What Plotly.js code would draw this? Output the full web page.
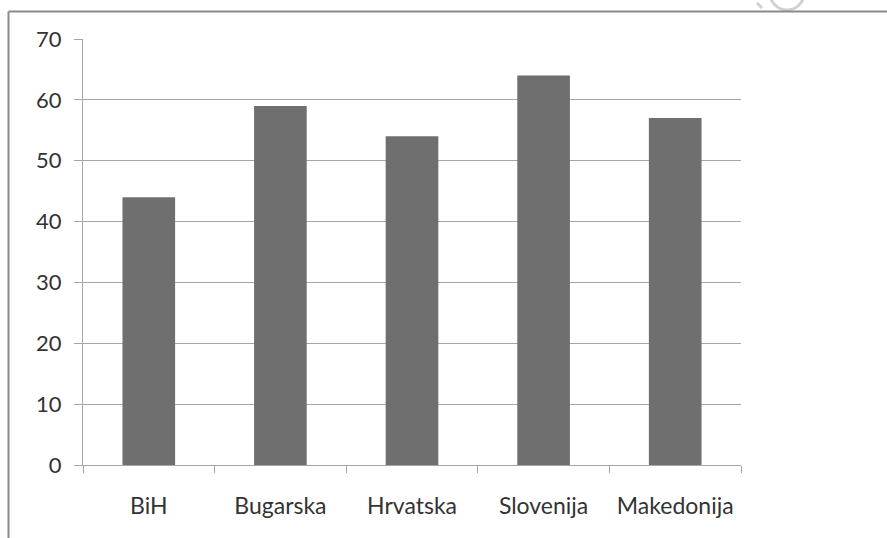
<!DOCTYPE html>
<html>
<head>
<meta charset="utf-8">
<script src="https://cdn.plot.ly/plotly-3.0.1.min.js"></script>
<style>html,body{margin:0;padding:0;background:#fff;}#chart{width:887px;height:538px;}</style>
</head>
<body>
<div id="chart"></div>
<script>
const categories = ["BiH", "Bugarska", "Hrvatska", "Slovenija", "Makedonija"];
const values = [44, 59, 54, 64, 57];
const yTicks = [0, 10, 20, 30, 40, 50, 60, 70];

const L = 83, R = 741, T = 39, B = 465, W = 887, H = 538;
const px = x => (x - L) / (R - L);
const py = y => (B - y) / (B - T);

const data = [{
  type: "bar",
  x: categories,
  y: values,
  marker: {color: "#6f6f6f", line: {width: 0}},
  width: 0.4,
  hoverinfo: "x+y"
}];

const layout = {
  width: W, height: H,
  margin: {l: L, r: W - R, t: T, b: H - B, pad: 0},
  paper_bgcolor: "#ffffff",
  plot_bgcolor: "#ffffff",
  showlegend: false,
  font: {family: "Lato, 'Open Sans', sans-serif", size: 22, color: "#333333"},
  xaxis: {
    type: "category",
    showgrid: false,
    showline: true, linecolor: "#a6a6a6", linewidth: 1,
    ticks: "outside", tickson: "boundaries", ticklen: 7, tickcolor: "#a6a6a6", tickwidth: 1,
    tickfont: {size: 23, color: "#333333"},
    ticklabelstandoff: 20,
    zeroline: false,
    fixedrange: true
  },
  yaxis: {
    range: [0, 70],
    tickvals: yTicks,
    ticktext: yTicks.map(String),
    showgrid: true, gridcolor: "#a6a6a6", gridwidth: 1,
    showline: true, linecolor: "#a6a6a6", linewidth: 1,
    ticks: "outside", ticklen: 8, tickcolor: "#a6a6a6", tickwidth: 1,
    tickfont: {size: 22, color: "#333333"},
    ticklabelstandoff: 8,
    zeroline: false,
    fixedrange: true
  },
  shapes: [
    {type: "line", xref: "paper", yref: "paper", x0: px(8.5), x1: px(887), y0: py(11.5), y1: py(11.5), line: {color: "#8a8a8a", width: 2}},
    {type: "line", xref: "paper", yref: "paper", x0: px(8.5), x1: px(8.5), y0: py(11.5), y1: py(538), line: {color: "#8a8a8a", width: 2}},
    {type: "circle", xref: "paper", yref: "paper", x0: px(770), x1: px(804), y0: py(-24), y1: py(10), line: {color: "#d0d0d0", width: 3}, layer: "below"},
    {type: "line", xref: "paper", yref: "paper", x0: px(757), x1: px(762), y0: py(3), y1: py(8), line: {color: "#d0d0d0", width: 3}, layer: "below"}
  ]
};

Plotly.newPlot("chart", data, layout, {displayModeBar: false, staticPlot: true});
</script>
</body>
</html>
